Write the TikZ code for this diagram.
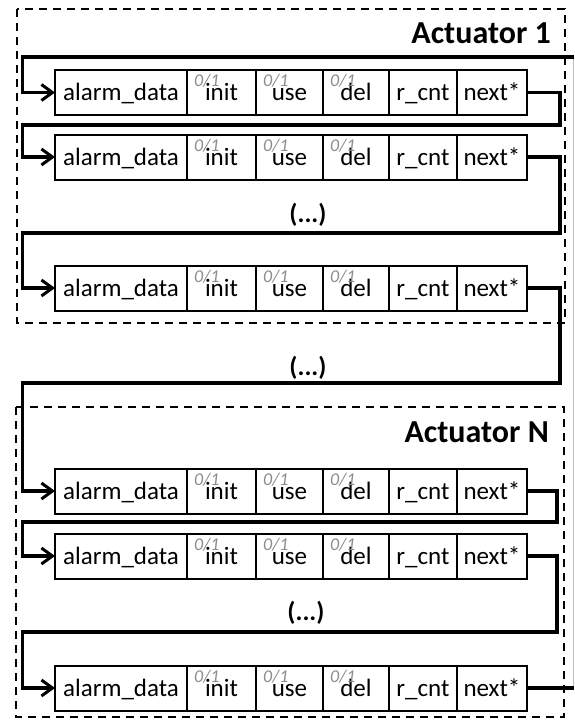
\documentclass[tikz,border=0pt]{standalone}
\usepackage{fontspec}
\setmainfont{Carlito}
\usetikzlibrary{arrows.meta,calc}

\tikzset{
  cell/.style={draw, line width=2pt, minimum height=45pt, inner sep=0pt, outer sep=0pt,
    text height=16pt, text depth=0pt, anchor=west, font=\fontsize{25}{29}\selectfont},
  flag/.style={anchor=north west, inner sep=0pt, text=black!45,
    font=\fontsize{18}{18}\selectfont\itshape},
  link/.style={line width=3.2pt, -{Straight Barb[length=11pt,width=16pt,line width=3pt]}},
  plain link/.style={line width=3.2pt},
  group/.style={draw, line width=2pt, dash pattern=on 8pt off 6pt},
  title/.style={anchor=base east, inner sep=0pt, font=\fontsize{32}{34}\selectfont\bfseries},
  gap/.style={inner sep=0pt, font=\fontsize{26}{28}\selectfont\bfseries},
}

% one list element: alarm_data | init | use | del | r_cnt | next*
\newcommand\recrow[2]{%
  \node[cell, minimum width=132pt] (#1a) at (55,#2) {alarm\_data};
  \node[cell, minimum width=69pt]  (#1i) at (187,#2) {init};
  \node[cell, minimum width=67pt]  (#1u) at (256,#2) {use};
  \node[cell, minimum width=66pt]  (#1d) at (323,#2) {del};
  \node[cell, minimum width=68pt]  (#1r) at (389,#2) {r\_cnt};
  \node[cell, minimum width=70pt]  (#1n) at (457,#2) {next*};
  \foreach \c in {i,u,d}
    \node[flag] (#1\c f) at ($(#1\c.north west)+(7,4)$) {0/1};
}

\begin{document}
\begin{tikzpicture}[x=1pt, y=-1pt]
  \useasboundingbox (0,0) rectangle (574,723);

  % actuator groups
  \draw[group] (16.5,9) rectangle (564.5,323);
  \draw[group] (16,407) rectangle (564,717);
  \node[title] (t1) at (551,43) {Actuator 1};
  \node[title] (tN) at (549,442) {Actuator N};

  % list elements
  \recrow{p}{92.5}
  \recrow{q}{157}
  \recrow{s}{288}
  \recrow{u}{491}
  \recrow{v}{556}
  \recrow{w}{688}

  % elisions
  \node[gap] (e1) at (308,215) {(...)};
  \node[gap] (e2) at (308,368) {(...)};
  \node[gap] (e3) at (306,613) {(...)};

  % rails and turn levels
  \coordinate (railL) at (22.5,0);
  \coordinate (railA) at (560,0);
  \coordinate (railB) at (557,0);
  \coordinate (k1) at (0,125);
  \coordinate (k2) at (0,233);
  \coordinate (k3) at (0,383);
  \coordinate (k4) at (0,522);
  \coordinate (k5) at (0,632);
  \coordinate (in) at (574,57);
  \coordinate (out) at (574,688);

  % next pointers
  \draw[black!25, line width=0.8pt] (573,57) -- (573,688);
  \draw[link] (in) -- (in -| railL) |- (pa.west);
  \draw[link] (pn.east) -| (railA |- k1) -| (railL |- qa.west) -- (qa.west);
  \draw[link] (qn.east) -| (railA |- k2) -| (railL |- sa.west) -- (sa.west);
  \draw[link] (sn.east) -| (railA |- k3) -| (railL |- ua.west) -- (ua.west);
  \draw[link] (un.east) -| (railB |- k4) -| (railL |- va.west) -- (va.west);
  \draw[link] (vn.east) -| (railB |- k5) -| (railL |- wa.west) -- (wa.west);
  \draw[plain link] (wn.east) -- (out);
\end{tikzpicture}
\end{document}
